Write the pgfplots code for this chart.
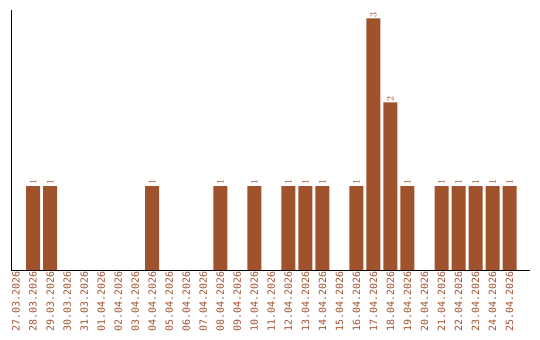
\documentclass[border=0pt]{standalone}
\usepackage{pgfplots}
\pgfplotsset{compat=1.18}
\usepackage{fontspec}
\setmainfont{Liberation Sans}
\setmonofont{DejaVu Sans Mono}
\definecolor{barc}{HTML}{A0522D}
\begin{document}
\begin{tikzpicture}
\begin{axis}[
  scale only axis,
  width=519bp, height=260bp,
  xmin=-0.3, xmax=30.2,
  ymin=0, ymax=3.1,
  axis x line=bottom, axis y line=left,
  axis line style={-, line width=1bp, black},
  ytick=\empty,
  xtick={0,...,29},
  xticklabels={27.03.2026,28.03.2026,29.03.2026,30.03.2026,31.03.2026,01.04.2026,02.04.2026,03.04.2026,04.04.2026,05.04.2026,06.04.2026,07.04.2026,08.04.2026,09.04.2026,10.04.2026,11.04.2026,12.04.2026,13.04.2026,14.04.2026,15.04.2026,16.04.2026,17.04.2026,18.04.2026,19.04.2026,20.04.2026,21.04.2026,22.04.2026,23.04.2026,24.04.2026,25.04.2026},
  major tick length=0pt,
  xticklabel style={rotate=90, anchor=east, font=\ttfamily\fontsize{10}{12}\selectfont, text=barc, inner sep=1.5bp},
  ybar, bar width=14bp,
  nodes near coords,
  every node near coord/.append style={rotate=90, anchor=west, font=\ttfamily\fontsize{10}{12}\selectfont, text=barc, inner sep=1bp},
]
\addplot[fill=barc, draw=none] coordinates {
(1,1) (2,1) (8,1) (12,1) (14,1) (16,1) (17,1) (18,1) (20,1) (21,3) (22,2) (23,1) (25,1) (26,1) (27,1) (28,1) (29,1)
};
\end{axis}
\pgfresetboundingbox
\path (-11bp,-70bp) rectangle (529bp,270bp);
\end{tikzpicture}
\end{document}
